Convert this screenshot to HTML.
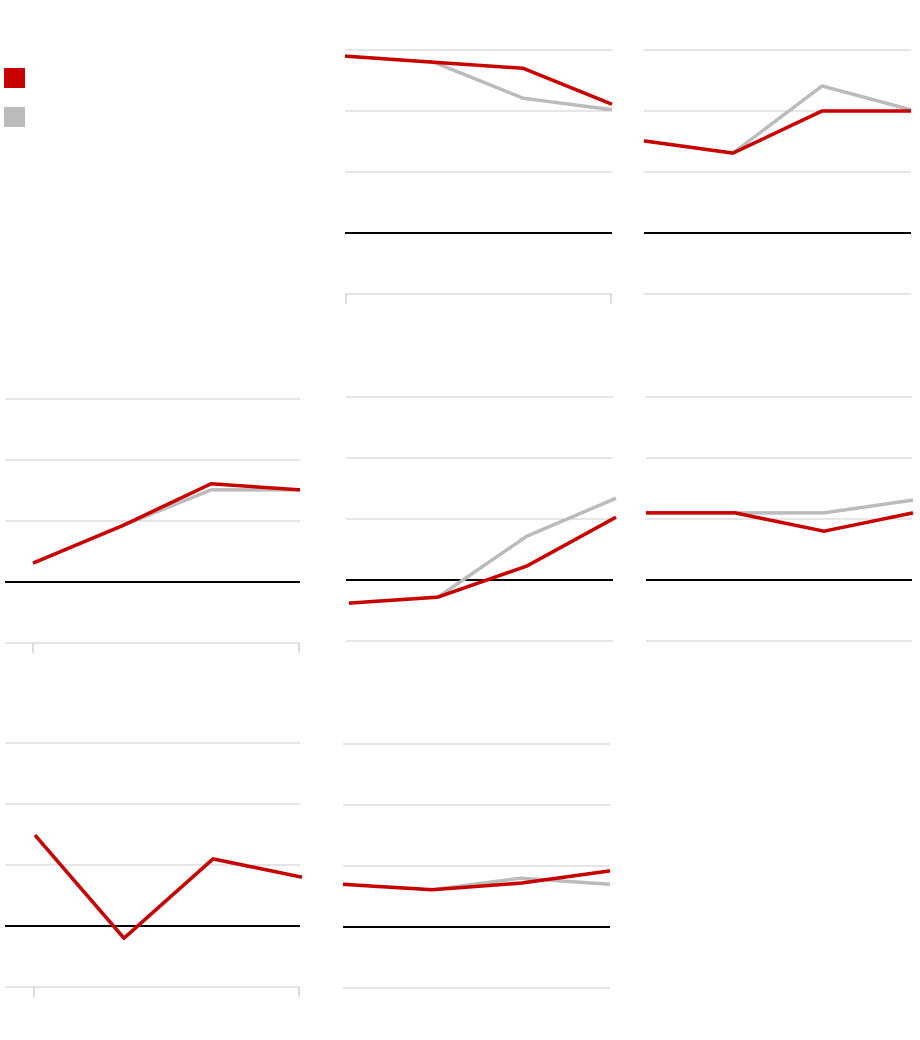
<!DOCTYPE html>
<html><head><meta charset="utf-8"><style>html,body{margin:0;padding:0;background:#fff}svg{display:block}</style></head>
<body>
<svg id="chart" width="920" height="1040" xmlns="http://www.w3.org/2000/svg">
<rect x="4" y="68" width="21" height="20" fill="#c80000"/>
<rect x="4" y="107" width="21" height="20" fill="#bbbbbb"/>
</svg>
<script>
const gridLevels = [3, 2, 1, 0, -1];
const panelNames = ['panel-1','panel-2','panel-3','panel-4','panel-5','panel-6','panel-7'];
const redSeries = [
  [2.90, 2.80, 2.70, 2.11],
  [1.51, 1.31, 2.00, 2.00],
  [0.31, 0.92, 1.61, 1.51],
  [-0.38, -0.28, 0.23, 1.03],
  [1.10, 1.10, 0.80, 1.10],
  [1.49, -0.20, 1.10, 0.80],
  [0.70, 0.61, 0.72, 0.92]
];
const graySeries = [
  [2.90, 2.80, 2.21, 2.02],
  [1.51, 1.31, 2.41, 2.02],
  [0.31, 0.92, 1.51, 1.51],
  [-0.38, -0.28, 0.72, 1.34],
  [1.10, 1.10, 1.10, 1.31],
  [1.49, -0.20, 1.10, 0.80],
  [0.70, 0.61, 0.80, 0.70]
];
// layout: left, right, zeroY, first point x, point spacing, ticks
const layout = [
  {l:345,r:612,z:233,px:345,dx:89,ticks:[346,611]},
  {l:644,r:911,z:233,px:644,dx:89,ticks:null},
  {l:5,r:300,z:582,px:33,dx:89,ticks:[33,299]},
  {l:346,r:613,z:580,px:349,dx:89,ticks:null},
  {l:646,r:912,z:580,px:646,dx:89,ticks:null},
  {l:5,r:300,z:926,px:35,dx:89,ticks:[34,299]},
  {l:343,r:610,z:927,px:343,dx:89,ticks:null}
];
const NS='http://www.w3.org/2000/svg';
const svg=document.getElementById('chart');
const unit=61;
function mk(tag,attrs){const e=document.createElementNS(NS,tag);for(const k in attrs)e.setAttribute(k,attrs[k]);svg.appendChild(e);return e;}
layout.forEach((p,i)=>{
  const yScale=v=>p.z-v*unit;
  const xScale=j=>p.px+j*p.dx;
  gridLevels.forEach(v=>{
    const y=yScale(v);
    const ln=mk('line',{x1:p.l,x2:p.r,y1:y,y2:y,stroke:v===0?'#000':'#cccccc','stroke-width':v===0?2:1});
    
    
  });
  if(p.ticks){p.ticks.forEach(tx=>{
    const y=yScale(-1);
    const t=mk('line',{x1:tx,x2:tx,y1:y,y2:y+10,stroke:'#bbb','stroke-width':1});
    
    
  });}
  const pts=s=>s.map((v,j)=>xScale(j)+','+yScale(v)).join(' ');
  const g=mk('polyline',{points:pts(graySeries[i]),fill:'none',stroke:'#bbbbbb','stroke-width':3.5,'stroke-linejoin':'round'});
  
  
  const r=mk('polyline',{points:pts(redSeries[i]),fill:'none',stroke:'#c80000','stroke-width':3.5,'stroke-linejoin':'round'});
  
  
});
</script>
</body></html>
